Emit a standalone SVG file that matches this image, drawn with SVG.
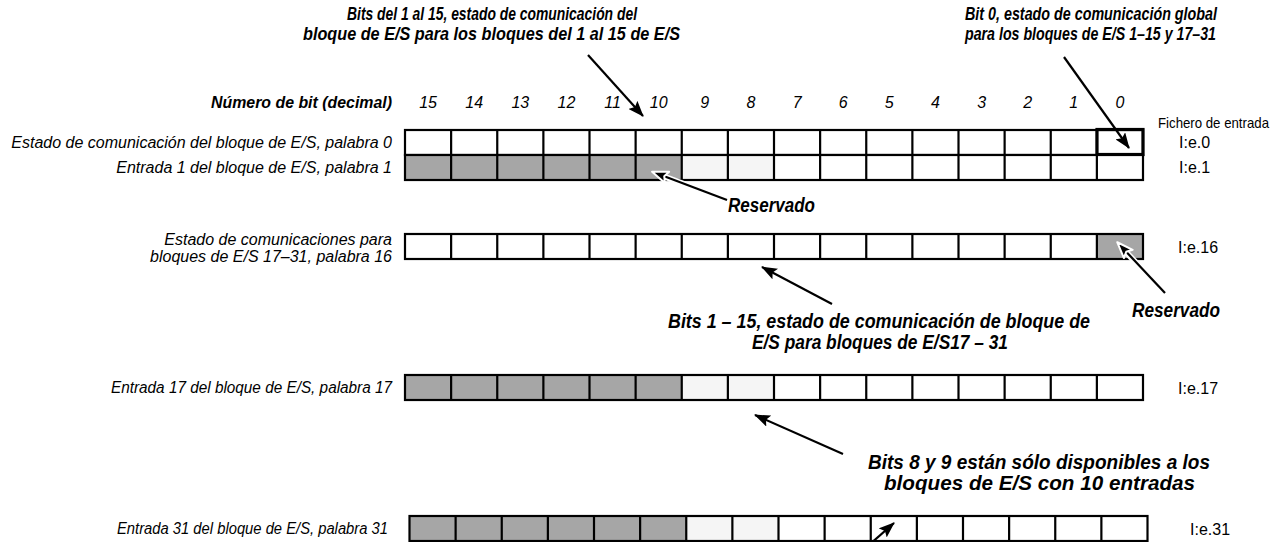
<svg xmlns="http://www.w3.org/2000/svg" width="1287" height="542" viewBox="0 0 1287 542">
<style>
.lbl{font-family:"Liberation Sans",Arial,sans-serif;font-size:16px;font-style:italic;fill:#000}
.hdr{font-family:"Liberation Sans",Arial,sans-serif;font-size:17px;font-style:italic;font-weight:bold;fill:#000}
.num{font-family:"Liberation Sans",Arial,sans-serif;font-size:16px;font-style:italic;fill:#000;text-anchor:middle}
.ref{font-family:"Liberation Sans",Arial,sans-serif;font-size:16px;fill:#000}
.fic{font-family:"Liberation Sans",Arial,sans-serif;font-size:15px;fill:#000}
.ann{font-family:"Liberation Sans",Arial,sans-serif;font-size:20px;font-style:italic;font-weight:bold;fill:#000}
.ttl{font-family:"Liberation Sans",Arial,sans-serif;font-size:18px;font-style:italic;font-weight:bold;fill:#000}
.cell{fill:none;stroke:#000;stroke-width:2.2}
.gray{fill:#a6a6a6}
.light{fill:#f5f5f5}
.white{fill:#fff}
.con{fill:none;stroke:#000;stroke-width:2.2}
.halo{fill:none;stroke:#fff;stroke-width:6}
</style>
<defs>
<marker id="ah" viewBox="0 0 16 12" refX="15" refY="6" markerWidth="16" markerHeight="12" markerUnits="userSpaceOnUse" orient="auto">
<path d="M0,0 L16,6 L0,12 L3,6 z" fill="#000"/>
</marker>
<marker id="ahw" viewBox="-2 -2 20 16" refX="15" refY="6" markerWidth="20" markerHeight="16" markerUnits="userSpaceOnUse" orient="auto">
<path d="M0,0 L16,6 L0,12 L3,6 z" fill="#000" stroke="#fff" stroke-width="2" stroke-linejoin="round"/>
</marker>
<path id="vlines" d="M46.125,0v25M92.25,0v25M138.375,0v25M184.5,0v25M230.625,0v25M276.75,0v25M322.875,0v25M369,0v25M415.125,0v25M461.25,0v25M507.375,0v25M553.5,0v25M599.625,0v25M645.75,0v25M691.875,0v25"/>
</defs>

<rect width="1287" height="542" fill="#fff"/>

<!-- header -->
<g id="header">
<text class="hdr" x="211" y="108" textLength="181" lengthAdjust="spacingAndGlyphs">Número de bit (decimal)</text>
<text class="num" x="428.1" y="108">15</text>
<text class="num" x="474.2" y="108">14</text>
<text class="num" x="520.3" y="108">13</text>
<text class="num" x="566.4" y="108">12</text>
<text class="num" x="612.6" y="108">11</text>
<text class="num" x="658.7" y="108">10</text>
<text class="num" x="704.8" y="108">9</text>
<text class="num" x="750.9" y="108">8</text>
<text class="num" x="797.1" y="108">7</text>
<text class="num" x="843.2" y="108">6</text>
<text class="num" x="889.3" y="108">5</text>
<text class="num" x="935.4" y="108">4</text>
<text class="num" x="981.6" y="108">3</text>
<text class="num" x="1027.7" y="108">2</text>
<text class="num" x="1073.8" y="108">1</text>
<text class="num" x="1119.9" y="108">0</text>
<text class="fic" x="1158" y="128" textLength="111" lengthAdjust="spacingAndGlyphs">Fichero de entrada</text>
</g>

<!-- word 0 -->
<g id="word0">
<text class="lbl" x="392" y="148" text-anchor="end">Estado de comunicación del bloque de E/S, palabra 0</text>
<g transform="translate(405,130)">
<rect class="white" x="0" y="0" width="738" height="25"/>
<use href="#vlines" class="cell"/>
<rect class="cell" x="0" y="0" width="738" height="25"/>
</g>
<rect x="1097" y="129.5" width="46" height="25" fill="none" stroke="#000" stroke-width="3.2"/>
<text class="ref" x="1179" y="148">I:e.0</text>
</g>

<!-- word 1 -->
<g id="word1">
<text class="lbl" x="392" y="173" text-anchor="end">Entrada 1 del bloque de E/S, palabra 1</text>
<g transform="translate(405,155)">
<rect class="white" x="0" y="0" width="738" height="25"/>
<rect class="gray" x="0" y="0" width="276.75" height="25"/>
<rect class="light" x="276.75" y="0" width="92.25" height="25"/>
<use href="#vlines" class="cell"/>
<rect class="cell" x="0" y="0" width="738" height="25"/>
</g>
<text class="ref" x="1179" y="173">I:e.1</text>
</g>

<!-- word 16 -->
<g id="word16">
<text class="lbl" x="392" y="245" text-anchor="end">Estado de comunicaciones para</text>
<text class="lbl" x="392" y="262" text-anchor="end">bloques de E/S 17–31, palabra 16</text>
<g transform="translate(405,234)">
<rect class="white" x="0" y="0" width="738" height="25"/>
<rect class="gray" x="691.875" y="0" width="46.125" height="25"/>
<use href="#vlines" class="cell"/>
<rect class="cell" x="0" y="0" width="738" height="25"/>
</g>
<text class="ref" x="1178" y="253">I:e.16</text>
</g>

<!-- word 17 -->
<g id="word17">
<text class="lbl" x="111" y="393" textLength="281" lengthAdjust="spacingAndGlyphs">Entrada 17 del bloque de E/S, palabra 17</text>
<g transform="translate(405,375)">
<rect class="white" x="0" y="0" width="738" height="25"/>
<rect class="gray" x="0" y="0" width="276.75" height="25"/>
<rect class="light" x="276.75" y="0" width="92.25" height="25"/>
<use href="#vlines" class="cell"/>
<rect class="cell" x="0" y="0" width="738" height="25"/>
</g>
<text class="ref" x="1178" y="394">I:e.17</text>
</g>

<!-- word 31 -->
<g id="word31">
<text class="lbl" x="117" y="534" textLength="271" lengthAdjust="spacingAndGlyphs">Entrada 31 del bloque de E/S, palabra 31</text>
<g transform="translate(409.5,516)">
<rect class="white" x="0" y="0" width="738" height="25"/>
<rect class="gray" x="0" y="0" width="276.75" height="25"/>
<rect class="light" x="276.75" y="0" width="92.25" height="25"/>
<use href="#vlines" class="cell"/>
<rect class="cell" x="0" y="0" width="738" height="25"/>
</g>
<text class="ref" x="1190" y="535">I:e.31</text>
</g>

<!-- annotations -->
<g id="note-bits1-15">
<text class="ttl" x="347" y="20" textLength="290" lengthAdjust="spacingAndGlyphs">Bits del 1 al 15, estado de comunicación del</text>
<text class="ttl" x="303" y="40" textLength="377" lengthAdjust="spacingAndGlyphs">bloque de E/S para los bloques del 1 al 15 de E/S</text>
</g>
<g id="note-bit0">
<text class="ttl" x="965" y="20" textLength="252" lengthAdjust="spacingAndGlyphs">Bit 0, estado de comunicación global</text>
<text class="ttl" x="965" y="40" textLength="251" lengthAdjust="spacingAndGlyphs">para los bloques de E/S 1–15 y 17–31</text>
</g>
<g id="note-reservado1">
<text class="ann" x="728" y="212" textLength="87" lengthAdjust="spacingAndGlyphs">Reservado</text>
</g>
<g id="note-reservado16">
<text class="ann" x="1132" y="317" textLength="88" lengthAdjust="spacingAndGlyphs">Reservado</text>
</g>
<g id="note-bits1-15-b">
<text class="ann" x="668" y="328" textLength="422" lengthAdjust="spacingAndGlyphs">Bits 1 – 15, estado de comunicación de bloque de</text>
<text class="ann" x="752" y="349" textLength="256" lengthAdjust="spacingAndGlyphs">E/S para bloques de E/S17 – 31</text>
</g>
<g id="note-bits8-9">
<text class="ann" x="868" y="469" textLength="342" lengthAdjust="spacingAndGlyphs">Bits 8 y 9 están sólo disponibles a los</text>
<text class="ann" x="884" y="490" textLength="311" lengthAdjust="spacingAndGlyphs">bloques de E/S con 10 entradas</text>
</g>

<!-- connectors -->
<g id="connectors">
<line class="con" x1="588" y1="55" x2="643" y2="116" marker-end="url(#ah)"/>
<line class="con" x1="1064" y1="57" x2="1129" y2="148" marker-end="url(#ah)"/>
<line class="halo" x1="727" y1="200" x2="660" y2="175"/>
<line class="con" x1="727" y1="200" x2="653" y2="172" marker-end="url(#ahw)"/>
<line class="halo" x1="1165" y1="293" x2="1123" y2="249"/>
<line class="con" x1="1165" y1="293" x2="1118" y2="243" marker-end="url(#ahw)"/>
<line class="con" x1="832" y1="304" x2="762" y2="267" marker-end="url(#ah)"/>
<line class="con" x1="843" y1="454" x2="755" y2="415" marker-end="url(#ah)"/>
<line class="con" x1="869" y1="545" x2="894" y2="523" marker-end="url(#ah)"/>
</g>
</svg>
